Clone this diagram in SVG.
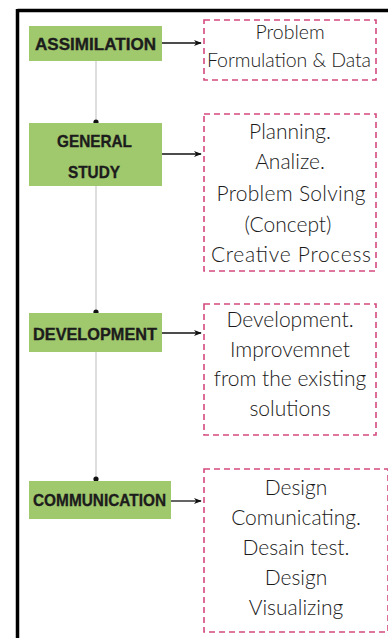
<svg xmlns="http://www.w3.org/2000/svg" width="388" height="638" viewBox="0 0 388 638">
<style>
.stage rect{fill:#A0C86C}
.stage text{font-family:"Liberation Sans",Arial,sans-serif;font-weight:bold;font-size:17px;fill:#1c1c1c;stroke:#1c1c1c;stroke-width:0.35;text-anchor:middle}
.note rect{fill:#fff;stroke:#D4497F;stroke-width:1.6;stroke-dasharray:6 4}
.note text{font-family:"Lato","Liberation Sans",sans-serif;font-weight:300;font-size:21px;fill:#1a1a1a;text-anchor:middle}
.note text.sm{font-size:19.5px}
.dot{fill:#111}
.spine{stroke:#c8c8c8;stroke-width:1.2}
.arr{stroke:#111;stroke-width:1.3;fill:none;marker-end:url(#ah)}
</style>
<defs>
<marker id="ah" viewBox="0 0 10 10" refX="9" refY="5" markerWidth="8" markerHeight="8" markerUnits="userSpaceOnUse" orient="auto">
<path d="M0,1 L10,5 L0,9 L3,5 Z" fill="#111"/>
</marker>
</defs>
<rect width="388" height="638" fill="#fff"/>
<g id="frame">
<line x1="17.5" y1="10.5" x2="388" y2="10.5" stroke="#000" stroke-width="3.5"/>
<line x1="17.5" y1="9" x2="17.5" y2="638" stroke="#000" stroke-width="3.5"/>
</g>
<g id="connectors">
<line class="spine" x1="96" y1="61" x2="96" y2="481"/>
<line class="arr" x1="162" y1="43" x2="201" y2="43"/>
<line class="arr" x1="162" y1="154" x2="201" y2="154"/>
<line class="arr" x1="162" y1="333" x2="201" y2="333"/>
<line class="arr" x1="171" y1="501" x2="201" y2="501"/>
<circle class="dot" cx="96" cy="122" r="2.6"/>
<circle class="dot" cx="96" cy="312" r="2.6"/>
<circle class="dot" cx="96" cy="479" r="2.6"/>
</g>
<g id="assimilation" class="stage">
<rect x="29" y="26" width="133" height="35"/>
<text x="95.5" y="49.5" textLength="121" lengthAdjust="spacingAndGlyphs">ASSIMILATION</text>
</g>
<g id="general-study" class="stage">
<rect x="29" y="123" width="133" height="63"/>
<text x="94.5" y="147" textLength="75" lengthAdjust="spacingAndGlyphs">GENERAL</text>
<text x="94" y="178" textLength="52" lengthAdjust="spacingAndGlyphs">STUDY</text>
</g>
<g id="development" class="stage">
<rect x="29" y="313" width="133" height="39"/>
<text x="95" y="339.5" textLength="124" lengthAdjust="spacingAndGlyphs">DEVELOPMENT</text>
</g>
<g id="communication" class="stage">
<rect x="29" y="481" width="142" height="38"/>
<text x="99.5" y="506" textLength="133" lengthAdjust="spacingAndGlyphs">COMMUNICATION</text>
</g>
<g id="note-assimilation" class="note">
<rect x="204" y="20" width="172" height="60"/>
<text class="sm" x="290" y="39">Problem</text>
<text class="sm" x="289" y="67" textLength="164">Formulation &amp; Data</text>
</g>
<g id="note-general" class="note">
<rect x="204" y="114" width="172" height="157"/>
<text x="290" y="139">Planning.</text>
<text x="290" y="169">Analize.</text>
<text x="291" y="201" textLength="149">Problem Solving</text>
<text x="288" y="232">(Concept)</text>
<text x="291" y="262" textLength="160">Creative Process</text>
</g>
<g id="note-development" class="note">
<rect x="204" y="304" width="172" height="131"/>
<text x="290" y="327">Development.</text>
<text x="290" y="357">Improvemnet</text>
<text x="290" y="386">from the existing</text>
<text x="290" y="416">solutions</text>
</g>
<g id="note-communication" class="note">
<rect x="204" y="469" width="184" height="163"/>
<text x="296" y="495">Design</text>
<text x="296" y="525">Comunicating.</text>
<text x="296" y="555">Desain test.</text>
<text x="296" y="585">Design</text>
<text x="296" y="615">Visualizing</text>
</g>
</svg>
